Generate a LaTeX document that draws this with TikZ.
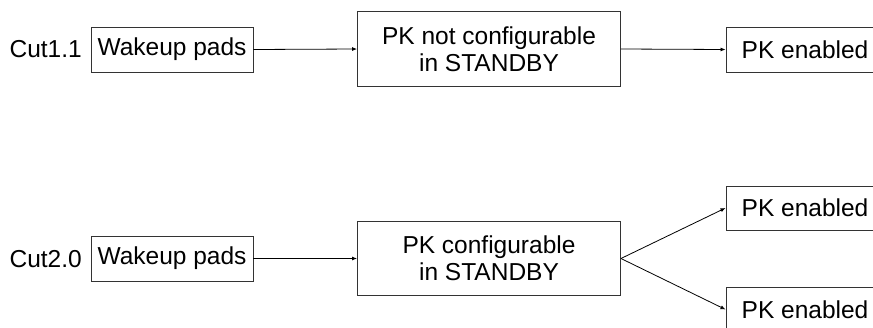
\documentclass[tikz,border=0pt]{standalone}
\usepackage{fontspec}
\setmainfont{Liberation Sans}
\usetikzlibrary{arrows.meta}
\begin{document}
\begin{tikzpicture}[x=1pt,y=-1pt,
  box/.style={draw=black!80, line width=0.9pt, inner sep=0pt, align=center,
    font=\fontsize{24.5}{27}\selectfont},
  lbl/.style={inner sep=0pt, font=\fontsize{24.5}{27}\selectfont},
  conn/.style={line width=0.8pt, -{Latex[length=5pt,width=4pt]}}]
\useasboundingbox (0,0) rectangle (873,327);
\clip (0,0) rectangle (873,327);
% top row
\node[lbl, anchor=base east] (cut1) at (82,57) {Cut1.1};
\node[box, minimum width=162pt, minimum height=45pt] (wake1) at (172,49.5) {Wakeup pads};
\node[box, minimum width=263pt, minimum height=74.5pt] (pknc) at (489,49) {PK not configurable\\in STANDBY};
\node[box, minimum width=158pt, minimum height=45pt] (en1) at (805,49.5) {PK enabled};
% bottom row
\node[lbl, anchor=base east] (cut2) at (82,267) {Cut2.0};
\node[box, minimum width=162pt, minimum height=45pt] (wake2) at (172,258.5) {Wakeup pads};
\node[box, minimum width=263pt, minimum height=73.5pt] (pkc) at (489,258.5) {PK configurable\\in STANDBY};
\node[box, minimum width=158pt, minimum height=44pt] (en2) at (805,208) {PK enabled};
\node[box, minimum width=158pt, minimum height=45pt] (en3) at (805,309.5) {PK enabled};
% connectors
\draw[conn] (wake1.east) -- (pknc.west);
\draw[conn] (pknc.east) -- (en1.west);
\draw[conn] (wake2.east) -- (pkc.west);
\draw[conn] (pkc.east) -- (en2.west);
\draw[conn] (pkc.east) -- (en3.west);
\end{tikzpicture}
\end{document}
